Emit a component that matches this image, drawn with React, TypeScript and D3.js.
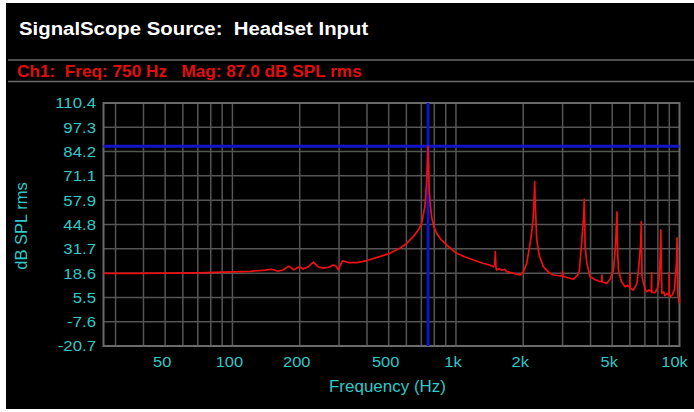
import React from 'react';
import * as d3 from 'd3';

const W = 694;
const H = 412;

const titleText = 'SignalScope Source:  Headset Input';
const statusText = 'Ch1:  Freq: 750 Hz   Mag: 87.0 dB SPL rms';
const yTitle = 'dB SPL rms';
const xTitle = 'Frequency (Hz)';

const yTickValues = [110.4, 97.3, 84.2, 71.1, 57.9, 44.8, 31.7, 18.6, 5.5, -7.6, -20.7];
const yTickLabels = ['110.4', '97.3', '84.2', '71.1', '57.9', '44.8', '31.7', '18.6', '5.5', '-7.6', '-20.7'];
const xTickValues = [50, 100, 200, 500, 1000, 2000, 5000, 10000];
const xTickLabels = ['50', '100', '200', '500', '1k', '2k', '5k', '10k'];
const gridFreqs = [30, 40, 50, 60, 70, 80, 90, 100, 200, 300, 400, 500, 600, 700, 800, 900,
  1000, 2000, 3000, 4000, 5000, 6000, 7000, 8000, 9000];

const cursorFreq = 750;
const cursorMag = 87.0;

const freqs = [
  26.5, 35, 50, 70, 100, 120, 140, 150, 160, 168, 179, 188, 199, 207, 218, 230, 242, 255, 270, 282,
  290, 297, 311, 330, 360, 400, 440, 456, 506, 561, 600, 644, 680, 702, 726, 739, 746, 750, 754, 759,
  768, 778, 795, 819, 860, 908, 1007, 1100, 1196, 1330, 1420, 1469, 1490, 1500, 1510, 1521, 1560, 1600, 1650, 1687,
  1800, 1935, 2000, 2073, 2160, 2210, 2240, 2250, 2260, 2298, 2360, 2460, 2600, 2728, 2900, 2990, 3000, 3010, 3200, 3352,
  3500, 3566, 3656, 3720, 3750, 3770, 3782, 3850, 3982, 4200, 4415, 4490, 4500, 4510, 4731, 4900, 5063, 5180, 5250, 5290,
  5333, 5500, 5713, 5850, 5990, 6000, 6010, 6223, 6450, 6553, 6700, 6750, 6770, 6800, 7000, 7145, 7300, 7490, 7500, 7510,
  7784, 8000, 8100, 8200, 8250, 8300, 8342, 8500, 8600, 8800, 8990, 9000, 9010, 9087, 9300, 9500, 9700, 9750, 9800, 9838,
  9950, 10000,
];
const mags = [
  18.5, 18.5, 18.6, 18.8, 19.3, 19.6, 20.2, 20.7, 19.6, 20.3, 22.4, 20.4, 22.1, 20.8, 22.0, 24.5, 22.0, 21.3, 21.8, 23.0,
  22.5, 20.4, 25.3, 24.3, 24.3, 25.4, 27.0, 27.5, 29.3, 32.0, 34.5, 38.3, 42.0, 45.5, 54.5, 67.1, 80.0, 87.0, 78.0, 63.5,
  55.0, 49.1, 44.0, 40.1, 36.5, 33.8, 29.3, 27.3, 25.7, 23.8, 22.9, 22.1, 23.0, 30.2, 21.6, 20.3, 21.0, 20.2, 20.7, 19.4,
  18.6, 17.6, 19.0, 23.9, 36.5, 47.0, 60.0, 68.0, 58.0, 36.5, 28.0, 22.1, 19.0, 17.6, 17.2, 17.0, 19.5, 16.8, 16.0, 15.3,
  17.5, 20.3, 36.5, 48.0, 58.4, 44.0, 32.9, 24.0, 16.7, 15.0, 14.0, 14.0, 17.6, 13.8, 13.1, 15.5, 20.3, 34.0, 51.7, 30.0,
  20.3, 14.0, 11.3, 12.0, 11.0, 18.8, 10.5, 9.5, 13.0, 20.3, 34.0, 46.4, 30.0, 16.7, 10.0, 8.6, 9.5, 8.5, 18.8, 8.2,
  8.1, 11.0, 15.0, 28.0, 41.9, 20.0, 7.7, 8.5, 6.5, 7.5, 6.8, 18.8, 6.5, 5.9, 7.0, 10.0, 25.0, 37.7, 15.0, 6.8,
  4.0, 2.3,
];

const CYAN = '#30c8c8';
const FONT = '"Liberation Sans", Arial, Helvetica, sans-serif';

type TProps = {
  x: number; y: number; size: number; fill: string; sx?: number; anchor?: string;
  weight?: string | number; rotate?: number; children: React.ReactNode;
};
function T({ x, y, size, fill, sx = 1, anchor = 'start', weight = 'normal', rotate, children }: TProps) {
  const tr = `translate(${x},${y})${rotate ? ` rotate(${rotate})` : ''} scale(${sx},1)`;
  return (
    <g transform={tr}>
      <text x={0} y={0} fontSize={size} fill={fill} fontWeight={weight} textAnchor={anchor}
        fontFamily={FONT} style={{ whiteSpace: 'pre' }}>{children}</text>
    </g>
  );
}

export default function App() {
  const left = 103.5, right = 679.5, top = 103, bottom = 346;
  const x = d3.scaleLog().domain([26.5, 10000]).range([left, right]);
  const y = d3.scaleLinear().domain([-20.7, 110.4]).range([bottom, top]);

  const line = d3.line<number>()
    .x((_, i) => x(freqs[i]))
    .y((d) => y(d))
    .curve(d3.curveLinear);
  const pathD = line(mags) || '';

  return (
    <svg width={W} height={H} style={{ position: 'absolute', left: 0, top: 0, background: '#fff' }}>
      <rect x={6} y={3} width={W - 6} height={406} fill="#000" />
      <T x={19} y={35} size={18.5} fill="#fff" weight="bold" sx={1.1}>{titleText}</T>
      <line x1={8} x2={W} y1={60} y2={60} stroke="#6a6a6a" strokeWidth={1.5} />
      <T x={17} y={77} size={16} fill="#e00e0e" weight="bold" sx={1.075}>{statusText}</T>
      <line x1={8} x2={W} y1={81.5} y2={81.5} stroke="#6a6a6a" strokeWidth={1.5} />

      <g>
        {gridFreqs.map((f) => (
          <line key={'gx' + f} x1={x(f)} x2={x(f)} y1={top} y2={bottom} stroke="#555" strokeWidth={1.5} />
        ))}
        {yTickValues.map((v) => (
          <line key={'gy' + v} x1={left} x2={right} y1={y(v)} y2={y(v)} stroke="#555" strokeWidth={1.5} />
        ))}
        <rect x={left} y={top} width={right - left} height={bottom - top} fill="none" stroke="#6a6a6a" strokeWidth={2} />
      </g>

      <line x1={x(cursorFreq)} x2={x(cursorFreq)} y1={top} y2={bottom} stroke="#1414c8" strokeWidth={3} />
      <line x1={left} x2={right} y1={y(cursorMag)} y2={y(cursorMag)} stroke="#1414c8" strokeWidth={3} />

      <path d={pathD} fill="none" stroke="#ee1010" strokeWidth={1.7} strokeLinejoin="round" />

      {yTickValues.map((v, i) => (
        <T key={'yl' + v} x={96} y={y(v) + 5.4} size={15} fill={CYAN} sx={1.12} anchor="end">{yTickLabels[i]}</T>
      ))}
      {xTickValues.map((v, i) => (
        <T key={'xl' + v} x={x(v) - (v === 10000 ? 5 : 3)} y={367} size={15.5} fill={CYAN} sx={1.06} anchor="middle">{xTickLabels[i]}</T>
      ))}
      <T x={(left + right) / 2 - 4} y={392} size={16.5} fill={CYAN} sx={1.03} anchor="middle">{xTitle}</T>
      <T x={27} y={226} size={16.5} fill={CYAN} rotate={-90} anchor="middle">{yTitle}</T>
    </svg>
  );
}
